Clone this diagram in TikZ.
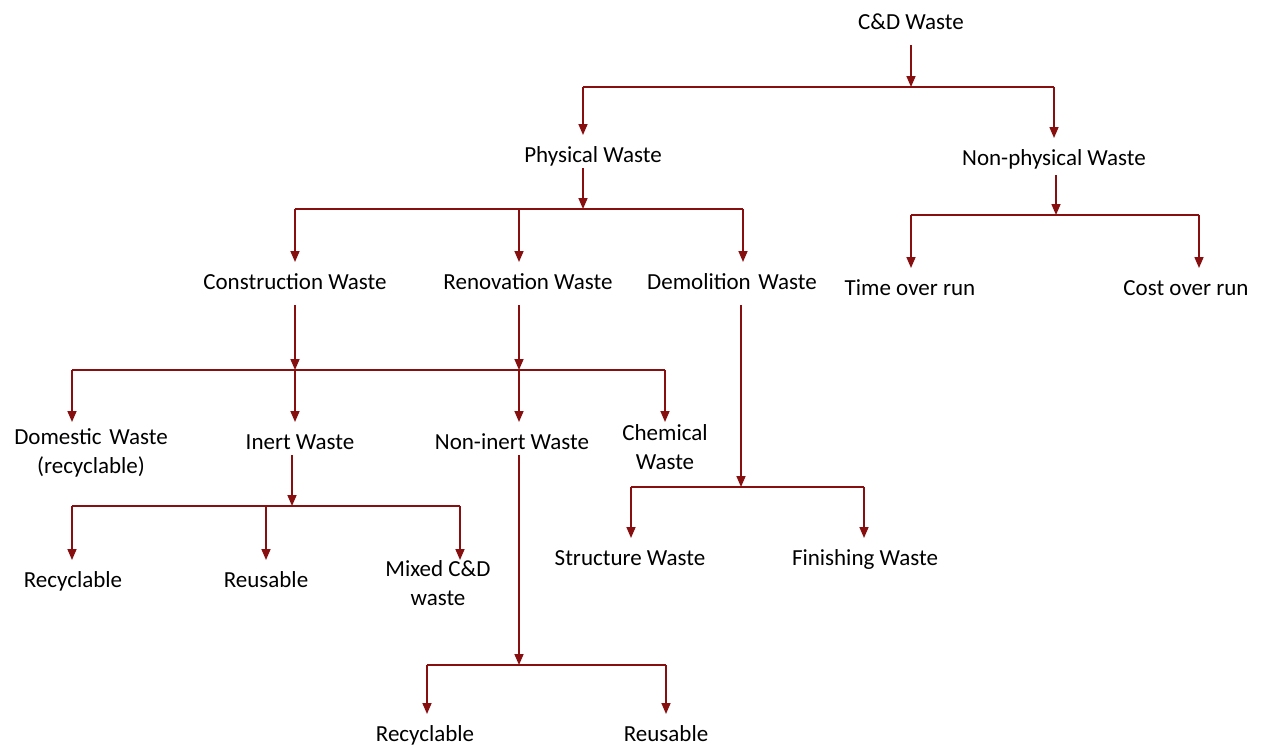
\documentclass[tikz,border=0pt]{standalone}
\usepackage{fontspec}
\setmainfont{Carlito}
\usetikzlibrary{arrows.meta}
\definecolor{wred}{RGB}{135,15,15}
\begin{document}
\begin{tikzpicture}[x=1pt,y=-1pt,
  lbl/.style={font=\fontsize{23}{28}\selectfont, inner xsep=0pt, inner ysep=10pt, text height=17pt, text depth=6pt, anchor=north},
  mlbl/.style={font=\fontsize{23}{29}\selectfont, inner xsep=0pt, align=center, anchor=north},
  ln/.style={draw=wred, line width=1.6pt},
  arr/.style={ln, -{Triangle[width=9pt,length=11pt]}}
]
\useasboundingbox (0,0) rectangle (1263,747);

% nodes
\node[lbl, anchor=base] (cd) at (911,29) {C\&D Waste};
\node[lbl] (phys) at (593,135) {Physical Waste};
\node[lbl] (nonphys) at (1054,138) {Non-physical Waste};
\node[lbl] (cons) at (295,262) {Construction Waste};
\node[lbl] (reno) at (528,262) {Renovation Waste};
\node[lbl] (demo) at (732,262) {Demolition\,\,Waste};
\node[lbl] (time) at (910,268) {Time over run};
\node[lbl] (cost) at (1186,268) {Cost over run};
\node[mlbl, inner ysep=6pt] (dom) at (91,422) {Domestic\,\,Waste\\(recyclable)};
\node[lbl] (inert) at (300,422) {Inert Waste};
\node[lbl] (noninert) at (512,422) {Non-inert Waste};
\node[mlbl, inner ysep=2pt] (chem) at (665,422) {Chemical\\Waste};
\node[lbl] (rec1) at (73,560) {Recyclable};
\node[lbl] (reu1) at (266,560) {Reusable};
\node[mlbl, inner ysep=0pt] (mixed) at (438,560) {Mixed C\&D\\waste};
\node[lbl] (struct) at (630,538) {Structure Waste};
\node[lbl] (finish) at (865,538) {Finishing Waste};
\node[lbl] (rec2) at (425,714) {Recyclable};
\node[lbl] (reu2) at (666,714) {Reusable};

% junction coordinates
\coordinate (j0) at (911,87);
\coordinate (j0a) at (583,87);
\coordinate (j0b) at (1054,87);

\coordinate (j1) at (583,209);
\coordinate (j1a) at (295,209);
\coordinate (j1b) at (519,209);
\coordinate (j1c) at (743,209);

\coordinate (j2) at (1056,215);
\coordinate (j2a) at (911,215);
\coordinate (j2b) at (1199,215);

\coordinate (j3a) at (72,370);
\coordinate (j3b) at (295,370);
\coordinate (j3c) at (519,370);
\coordinate (j3d) at (665,370);

\coordinate (j4) at (292,506);
\coordinate (j4a) at (72,506);
\coordinate (j4b) at (266,506);
\coordinate (j4c) at (460,506);

\coordinate (j5) at (519,665);
\coordinate (j5a) at (427,665);
\coordinate (j5b) at (666,665);

\coordinate (j6) at (741,487);
\coordinate (j6a) at (631,487);
\coordinate (j6b) at (864,487);

% level 0
\draw[arr] (cd.south -| j0) -- (j0);
\draw[ln] (j0a) -- (j0b);
\draw[arr] (j0a) -- (j0a |- phys.north);
\draw[arr] (j0b) -- (j0b |- nonphys.north);

% physical
\draw[arr, shorten <=-10pt] (phys.south -| j1) -- (j1);
\draw[ln] (j1a) -- (j1c);
\draw[arr] (j1a) -- (j1a |- cons.north);
\draw[arr] (j1b) -- (j1b |- reno.north);
\draw[arr] (j1c) -- (j1c |- demo.north);

% non-physical
\draw[arr, shorten <=-6pt] (nonphys.south -| j2) -- (j2);
\draw[ln] (j2a) -- (j2b);
\draw[arr] (j2a) -- (j2a |- time.north);
\draw[arr] (j2b) -- (j2b |- cost.north);

% construction / renovation
\draw[arr] (cons.south -| j3b) -- (j3b);
\draw[arr] (reno.south -| j3c) -- (j3c);
\draw[ln] (j3a) -- (j3d);
\draw[arr] (j3a) -- (j3a |- dom.north);
\draw[arr] (j3b) -- (j3b |- inert.north);
\draw[arr] (j3c) -- (j3c |- noninert.north);
\draw[arr] (j3d) -- (j3d |- chem.north);

% inert
\draw[arr, shorten <=-10pt] (inert.south -| j4) -- (j4);
\draw[ln] (j4a) -- (j4c);
\draw[arr] (j4a) -- (j4a |- rec1.north);
\draw[arr] (j4b) -- (j4b |- reu1.north);
\draw[arr] (j4c) -- (j4c |- mixed.north);

% non-inert
\draw[arr, shorten <=-10pt] (noninert.south -| j5) -- (j5);
\draw[ln] (j5a) -- (j5b);
\draw[arr] (j5a) -- (j5a |- rec2.north);
\draw[arr] (j5b) -- (j5b |- reu2.north);

% demolition
\draw[arr] (demo.south -| j6) -- (j6);
\draw[ln] (j6a) -- (j6b);
\draw[arr] (j6a) -- (j6a |- struct.north);
\draw[arr] (j6b) -- (j6b |- finish.north);
\end{tikzpicture}
\end{document}
